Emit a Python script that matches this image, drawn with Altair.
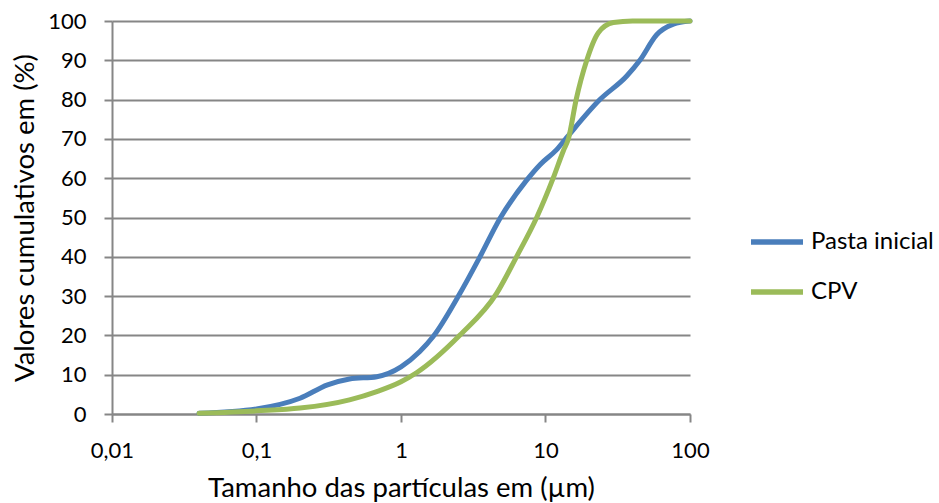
import altair as alt
import pandas as pd

# Particle size distribution (cumulative %), log-scaled size axis
pasta_size = [0.04, 0.1, 0.2, 0.31, 0.44, 0.68, 1.0, 1.35, 1.67, 2.56, 3.52, 4.85,
              7.41, 9.2, 11.9, 14.0, 23.8, 36.5, 45.0, 58.8, 76.7, 100.0]
pasta_cum = [0.2, 1.3, 4.0, 7.4, 8.9, 9.5, 12.0, 15.9, 19.7, 30.7, 40.0, 49.8,
             59.5, 63.5, 67.2, 70.3, 80.0, 86.0, 90.0, 96.5, 99.2, 100.0]

cpv_size = [0.04, 0.1, 0.2, 0.44, 0.68, 1.0, 1.28, 2.56, 4.59, 6.3, 8.69, 11.3,
            13.3, 14.4, 16.3, 19.3, 23.2, 29.5, 40.0, 100.0]
cpv_cum = [0.2, 0.8, 1.5, 3.6, 5.7, 8.2, 10.5, 20.1, 30.7, 40.0, 50.0, 60.0,
           67.0, 70.0, 80.0, 90.0, 97.0, 99.6, 100.0, 100.0]

series = ["Pasta inicial", "CPV"]
colors = ["#4a7ebb", "#9bbb59"]
x_ticks = [0.01, 0.1, 1, 10, 100]
y_ticks = [0, 10, 20, 30, 40, 50, 60, 70, 80, 90, 100]

df = pd.concat([
    pd.DataFrame({"size": pasta_size, "cum": pasta_cum, "serie": series[0], "order": range(len(pasta_size))}),
    pd.DataFrame({"size": cpv_size, "cum": cpv_cum, "serie": series[1], "order": range(len(cpv_size))}),
])

FONT = "Lato"

chart = alt.Chart(df).mark_line(
    interpolate="monotone", strokeWidth=5, strokeCap="round", strokeJoin="round"
).encode(
    x=alt.X("size:Q",
            scale=alt.Scale(type="log", domain=[0.01, 100], nice=False),
            axis=alt.Axis(values=x_ticks, grid=False, labelFlush=False,
                          labelExpr="replace(toString(datum.value), '.', ',')",
                          title="Tamanho das partículas em (µm)")),
    y=alt.Y("cum:Q",
            scale=alt.Scale(domain=[0, 100], nice=False),
            axis=alt.Axis(values=y_ticks, grid=True,
                          title="Valores cumulativos em (%)")),
    color=alt.Color("serie:N", scale=alt.Scale(domain=series, range=colors),
                    legend=alt.Legend(title=None, orient="none", legendX=636, legendY=192,
                                      symbolType="stroke", symbolSize=2704,
                                      symbolStrokeWidth=5.5, labelFontSize=24,
                                      labelFont=FONT, labelColor="#000000",
                                      labelOffset=5, rowPadding=9)),
    order="order:Q",
).properties(
    width=578, height=393,
    autosize=alt.AutoSizeParams(type="none"),
    padding={"left": 112, "top": 21, "right": 249, "bottom": 89},
).configure_view(
    stroke=None
).configure_axis(
    domainColor="#868686", domainWidth=2,
    tickColor="#868686", tickWidth=2, tickSize=8,
    gridColor="#868686", gridWidth=2,
    labelFont=FONT, labelFontSize=22, labelColor="#000000",
    titleFont=FONT, titleFontSize=27.5, titleColor="#000000", titleFontWeight="normal",
).configure_axisX(
    labelPadding=18, titlePadding=13,
).configure_axisY(
    labelPadding=18, titlePadding=8,
)

chart.save("out.html", embed_options={"renderer": "svg", "actions": False})
